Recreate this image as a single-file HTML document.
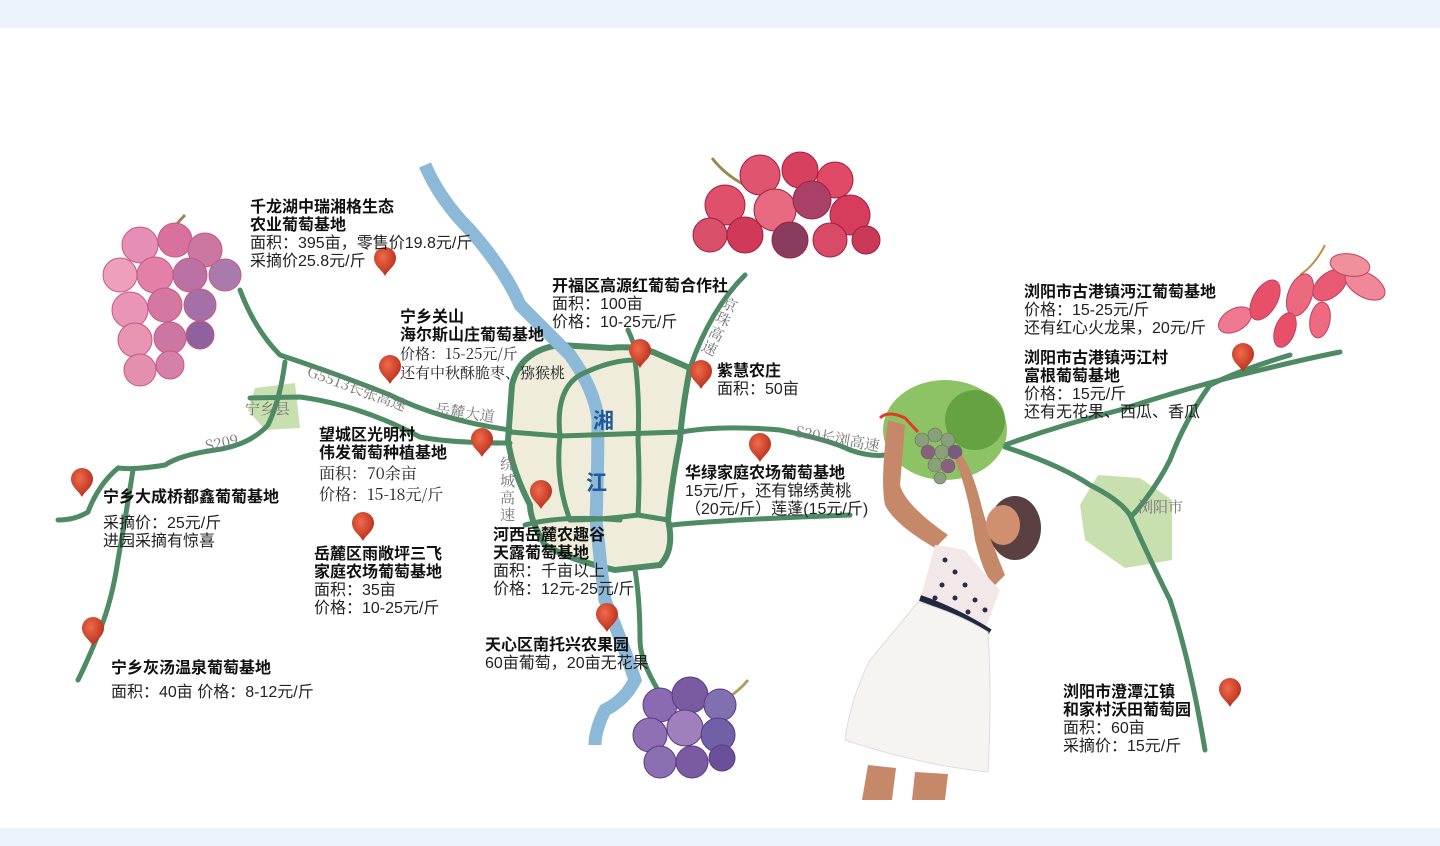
<!DOCTYPE html>
<html><head><meta charset="utf-8">
<style>
html,body{margin:0;padding:0;background:#fff;}
body{width:1440px;height:846px;position:relative;overflow:hidden;font-family:"Liberation Sans","Noto Sans CJK SC",sans-serif;color:#222;}
.band{position:absolute;left:0;width:1440px;background:#edf3fa;}
svg{position:absolute;left:0;top:0;}
.t{position:absolute;font-size:16px;line-height:18px;white-space:nowrap;}
.t b{font-weight:bold;color:#111;}
.s{font-family:"Noto Serif CJK SC",serif;}
.rl{position:absolute;font-family:"Noto Serif CJK SC",serif;font-size:15px;color:#777;white-space:nowrap;}
</style></head><body>
<div class="band" style="top:0;height:28px"></div>
<div class="band" style="top:828px;height:18px"></div>
<svg width="1440" height="846" viewBox="0 0 1440 846">
<defs>
<radialGradient id="pg" cx="40%" cy="35%" r="65%"><stop offset="0" stop-color="#f06a4a"/><stop offset="1" stop-color="#b8301e"/></radialGradient>
<g id="pin"><path d="M0,14 C-3,8 -11,4 -11,-4 A11,11 0 1 1 11,-4 C11,4 3,8 0,14Z" fill="url(#pg)"/></g>
</defs>
<path d="M255,388 L295,383 L300,428 L265,430 L248,410Z" fill="#c8dfb0"/>
<path d="M1098,475 L1140,478 L1172,500 L1172,560 L1125,568 L1085,540 L1080,505Z" fill="#c8dfb0"/>
<path d="M512,385 Q520,350 560,345 L610,348 Q640,345 660,355 L690,368 Q682,410 680,440 Q672,480 668,520 Q675,550 660,565 L615,570 Q570,560 545,545 Q530,520 530,505 Q512,470 508,440Z" fill="#efecdc" stroke="#4e8a63" stroke-width="6"/>
<path d="M425,165 Q440,200 470,230 Q505,270 520,305 Q545,330 570,355 Q595,390 598,420 Q598,470 596,520 Q600,560 605,600 Q625,650 635,680 Q625,700 605,710 Q595,730 595,745" fill="none" stroke="#8db9d8" stroke-width="13"/>
<g fill="none" stroke="#4e8a63" stroke-width="5" stroke-linecap="round">
<path d="M510,432 L560,436 Q620,434 682,432"/>
<path d="M560,436 Q555,390 580,375 Q610,360 635,360 Q640,400 638,440 Q640,480 638,515 Q600,520 570,520"/>
<path d="M560,436 Q555,480 570,520"/>
<path d="M638,515 L668,520"/>
<path d="M525,525 Q560,515 620,520"/>
<path d="M240,290 Q255,330 280,355 Q340,375 390,395 Q440,420 510,430"/>
<path d="M250,398 L300,397 Q360,405 420,437 Q450,443 510,443"/>
<path d="M285,362 Q280,400 268,425 Q250,445 215,450 Q180,455 165,465 Q135,470 118,468 Q98,485 88,512 Q75,520 58,520"/>
<path d="M133,470 Q125,520 118,560 Q112,600 100,630 Q88,660 78,680"/>
<path d="M690,368 Q710,310 745,275"/>
<path d="M628,330 Q635,345 638,360"/>
<path d="M682,432 Q720,425 780,430 Q830,440 850,450 Q870,457 885,455"/>
<path d="M672,525 Q720,520 850,515"/>
<path d="M635,570 Q640,600 640,640 Q640,660 658,690"/>
<path d="M1005,445 Q1060,425 1120,410 Q1180,390 1240,375 Q1300,360 1340,352"/>
<path d="M1005,447 Q1060,465 1090,485 Q1120,500 1130,515 Q1150,560 1170,600 Q1190,660 1205,750"/>
<path d="M1290,355 Q1240,370 1210,385 Q1185,420 1170,460 Q1160,480 1145,500 Q1130,520 1130,515"/>
</g>
<use href="#pin" x="385" y="262"/><use href="#pin" x="390" y="370"/><use href="#pin" x="482" y="443"/>
<use href="#pin" x="541" y="495"/><use href="#pin" x="640" y="354"/><use href="#pin" x="701" y="375"/>
<use href="#pin" x="760" y="448"/><use href="#pin" x="363" y="527"/><use href="#pin" x="607" y="618"/>
<use href="#pin" x="82" y="483"/><use href="#pin" x="93" y="632"/><use href="#pin" x="1243" y="358"/>
<use href="#pin" x="1230" y="693"/>
<g stroke="#c4507a" stroke-width="1" opacity="0.95">
<path d="M165,240 Q175,225 185,215" stroke="#9a7a50" stroke-width="3" fill="none"/>
<circle cx="140" cy="245" r="18" fill="#e58ab0"/><circle cx="175" cy="240" r="17" fill="#d86a9a"/><circle cx="205" cy="250" r="17" fill="#c9709c"/>
<circle cx="120" cy="275" r="17" fill="#ee9ab8"/><circle cx="155" cy="275" r="18" fill="#e27aa4"/><circle cx="190" cy="275" r="17" fill="#b86aa0"/><circle cx="225" cy="275" r="16" fill="#a673a8"/>
<circle cx="130" cy="310" r="18" fill="#e890b4"/><circle cx="165" cy="305" r="17" fill="#d2709c"/><circle cx="200" cy="305" r="16" fill="#9f6aa4"/>
<circle cx="135" cy="340" r="17" fill="#e790b0"/><circle cx="170" cy="338" r="16" fill="#c9709e"/><circle cx="200" cy="335" r="14" fill="#8a5a9a"/>
<circle cx="140" cy="370" r="16" fill="#e48aac"/><circle cx="170" cy="365" r="14" fill="#d27aa4"/>
</g>
<g stroke="#a02040" stroke-width="1">
<path d="M712,158 Q725,175 745,185" stroke="#9a8a50" stroke-width="3" fill="none"/>
<circle cx="760" cy="175" r="20" fill="#e05470"/><circle cx="800" cy="170" r="18" fill="#d84060"/><circle cx="835" cy="180" r="18" fill="#e04a66"/>
<circle cx="725" cy="205" r="20" fill="#e0506a"/><circle cx="775" cy="210" r="21" fill="#e86a80"/><circle cx="812" cy="200" r="19" fill="#a84068"/><circle cx="850" cy="215" r="20" fill="#d83c5c"/>
<circle cx="710" cy="235" r="17" fill="#d8506a"/><circle cx="745" cy="235" r="18" fill="#d03a58"/><circle cx="790" cy="240" r="18" fill="#8a3c5e"/><circle cx="830" cy="240" r="17" fill="#d84a66"/><circle cx="866" cy="240" r="14" fill="#c83a58"/>
</g>
<g stroke="#c04060" stroke-width="1">
<path d="M1325,245 Q1315,265 1300,275" stroke="#c09040" stroke-width="2" fill="none"/>
<ellipse cx="1235" cy="320" rx="18" ry="11" fill="#f07890" transform="rotate(-30 1235 320)"/>
<ellipse cx="1265" cy="300" rx="22" ry="12" fill="#e8506a" transform="rotate(-60 1265 300)"/>
<ellipse cx="1300" cy="295" rx="22" ry="12" fill="#ec6a80" transform="rotate(-70 1300 295)"/>
<ellipse cx="1330" cy="285" rx="20" ry="12" fill="#e85a74" transform="rotate(-40 1330 285)"/>
<ellipse cx="1365" cy="285" rx="22" ry="12" fill="#f0889a" transform="rotate(30 1365 285)"/>
<ellipse cx="1350" cy="265" rx="20" ry="11" fill="#f0909c" transform="rotate(10 1350 265)"/>
<ellipse cx="1285" cy="330" rx="18" ry="10" fill="#e8506a" transform="rotate(-70 1285 330)"/>
<ellipse cx="1320" cy="320" rx="18" ry="10" fill="#ee6a80" transform="rotate(-80 1320 320)"/>
</g>
<g stroke="#5a3a80" stroke-width="1">
<path d="M725,700 Q740,690 748,680" stroke="#b0a060" stroke-width="3" fill="none"/>
<circle cx="660" cy="705" r="17" fill="#8a6ab0"/><circle cx="690" cy="695" r="18" fill="#7a5aa0"/><circle cx="720" cy="705" r="16" fill="#8070b0"/>
<circle cx="650" cy="735" r="17" fill="#9070b4"/><circle cx="685" cy="728" r="18" fill="#a080bc"/><circle cx="718" cy="735" r="17" fill="#7060a8"/>
<circle cx="660" cy="762" r="16" fill="#8a70b0"/><circle cx="692" cy="762" r="16" fill="#7a5aa0"/><circle cx="722" cy="758" r="13" fill="#6a5098"/>
</g>
<ellipse cx="945" cy="430" rx="62" ry="50" fill="#7ab84a" opacity="0.85"/>
<ellipse cx="975" cy="420" rx="30" ry="30" fill="#5a9a3a" opacity="0.8"/>
<g fill="#8aa07a" stroke="#607050" stroke-width="0.6">
<circle cx="922" cy="440" r="7"/><circle cx="935" cy="435" r="7"/><circle cx="948" cy="440" r="7"/><circle cx="928" cy="452" r="7" fill="#8a6080"/>
<circle cx="942" cy="452" r="7"/><circle cx="955" cy="452" r="7" fill="#7a5a80"/><circle cx="935" cy="465" r="7"/><circle cx="948" cy="466" r="7" fill="#8a6080"/><circle cx="940" cy="478" r="6"/>
</g>
<path d="M880,418 Q888,410 905,418 L918,432" stroke="#e03a2a" stroke-width="3" fill="none"/>
<path d="M888,420 Q880,480 885,505 Q895,525 935,548 L948,535 Q905,505 900,485 Q903,450 905,425Z" fill="#c58868"/>
<path d="M955,460 Q968,490 975,540 Q985,580 995,585 L1005,575 Q990,540 980,500 Q972,470 962,455Z" fill="#c58868"/>
<ellipse cx="1015" cy="528" rx="26" ry="32" fill="#5a4040"/>
<ellipse cx="1003" cy="525" rx="17" ry="20" fill="#d09070"/>
<path d="M935,545 Q955,548 965,550 Q985,575 1000,590 L985,630 Q950,615 920,600Z" fill="#f2e8e8"/>
<g fill="#2a2a4a"><circle cx="945" cy="560" r="2.5"/><circle cx="955" cy="572" r="2.5"/><circle cx="942" cy="585" r="2.5"/><circle cx="965" cy="585" r="2.5"/><circle cx="975" cy="600" r="2.5"/><circle cx="955" cy="598" r="2.5"/><circle cx="935" cy="598" r="2.5"/><circle cx="985" cy="610" r="2.5"/><circle cx="968" cy="612" r="2.5"/></g>
<path d="M920,598 Q955,610 990,632" stroke="#222840" stroke-width="6" fill="none"/>
<path d="M918,602 Q955,612 988,632 Q992,700 988,772 Q920,765 845,740 Q850,700 870,660 Q895,630 918,602Z" fill="#f6f4f0" stroke="#ddd" stroke-width="1"/>
<path d="M868,765 L862,800 L892,800 L896,768Z M915,772 L912,800 L945,800 L948,774Z" fill="#c58868"/>
</svg>

<div class="t" style="left:250px;top:199px"><b>千龙湖中瑞湘格生态<br>农业葡萄基地</b><br>面积：395亩，零售价19.8元/斤<br>采摘价25.8元/斤</div>
<div class="t" style="left:552px;top:278px"><b>开福区高源红葡萄合作社</b><br>面积：100亩<br>价格：10-25元/斤</div>
<div class="t" style="left:400px;top:309px"><b>宁乡关山<br>海尔斯山庄葡萄基地</b><br><span class="s" style="font-size:15px">价格：15-25元/斤<br>还有中秋酥脆枣、猕猴桃</span></div>
<div class="t" style="left:717px;top:363px"><b>紫慧农庄</b><br>面积：50亩</div>
<div class="t" style="left:319px;top:427px"><b>望城区光明村<br>伟发葡萄种植基地</b><br><span class="s" style="font-size:16px;line-height:20px">面积：70余亩<br>价格：15-18元/斤</span></div>
<div class="t" style="left:685px;top:465px"><b>华绿家庭农场葡萄基地</b><br>15元/斤，还有锦绣黄桃<br>（20元/斤）莲蓬(15元/斤)</div>
<div class="t" style="left:103px;top:489px"><b>宁乡大成桥都鑫葡葡基地</b></div>
<div class="t" style="left:103px;top:515px">采摘价：25元/斤<br>进园采摘有惊喜</div>
<div class="t" style="left:493px;top:527px"><b>河西岳麓农趣谷<br>天露葡萄基地</b><br>面积：千亩以上<br>价格：12元-25元/斤</div>
<div class="t" style="left:314px;top:546px"><b>岳麓区雨敞坪三飞<br>家庭农场葡萄基地</b><br>面积：35亩<br>价格：10-25元/斤</div>
<div class="t" style="left:485px;top:637px"><b>天心区南托兴农果园</b><br>60亩葡萄，20亩无花果</div>
<div class="t" style="left:111px;top:660px"><b>宁乡灰汤温泉葡萄基地</b></div>
<div class="t" style="left:111px;top:684px">面积：40亩 价格：8-12元/斤</div>
<div class="t" style="left:1024px;top:284px"><b>浏阳市古港镇沔江葡萄基地</b><br>价格：15-25元/斤<br>还有红心火龙果，20元/斤</div>
<div class="t" style="left:1024px;top:350px"><b>浏阳市古港镇沔江村<br>富根葡萄基地</b><br>价格：15元/斤<br>还有无花果、西瓜、香瓜</div>
<div class="t" style="left:1063px;top:684px"><b>浏阳市澄潭江镇<br>和家村沃田葡萄园</b><br>面积：60亩<br>采摘价：15元/斤</div>

<div style="position:absolute;left:593px;top:405px;font-size:21px;font-weight:bold;color:#1f5a9a">湘</div>
<div style="position:absolute;left:586px;top:467px;font-size:21px;font-weight:bold;color:#1f5a9a">江</div>
<div class="rl" style="left:245px;top:398px">宁乡县</div>
<div class="rl" style="left:1138px;top:496px">浏阳市</div>
<div class="rl" style="left:205px;top:432px;transform:rotate(-12deg)">S209</div>
<div class="rl" style="left:308px;top:360px;transform:rotate(20deg);transform-origin:left">G5513长张高速</div>
<div class="rl" style="left:435px;top:402px;transform:rotate(8deg)">岳麓大道</div>
<div class="rl" style="left:795px;top:428px;transform:rotate(10deg)">S20长浏高速</div>
<div class="rl" style="left:500px;top:455px;width:16px;white-space:normal;line-height:17px">绕城高速</div>
<div class="rl" style="left:712px;top:295px;width:16px;white-space:normal;line-height:16px;transform:rotate(25deg)">京珠高速</div>
</body></html>
